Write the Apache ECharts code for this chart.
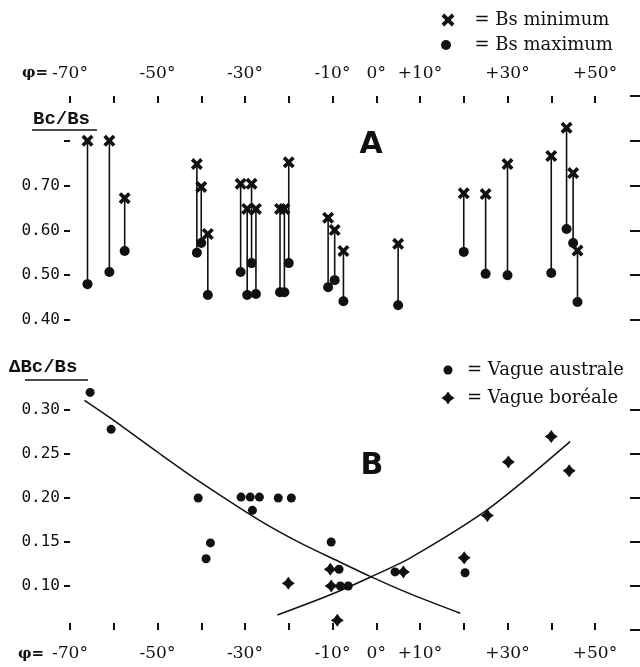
<!DOCTYPE html>
<html><head><meta charset="utf-8">
<script src="https://cdn.jsdelivr.net/npm/echarts@6/dist/echarts.min.js"></script>
<style>html,body{margin:0;padding:0;background:#fff}#c{width:640px;height:667px}</style>
</head><body><div id="c"></div>
<script>
// ---------- Panel A : Bc/Bs ----------
const latA   = [-66, -61, -57.5, -41, -40, -38.5, -31, -29.5, -28.5, -27.5, -22, -21, -20, -11, -9.5, -7.5, 5, 20, 25, 30, 40, 43.5, 45, 46];
const bsMinA = [0.80, 0.80, 0.672, 0.748, 0.697, 0.592, 0.704, 0.648, 0.704, 0.648, 0.648, 0.648, 0.752, 0.628, 0.601, 0.554, 0.570, 0.683, 0.681, 0.748, 0.766, 0.829, 0.728, 0.555];
const bsMaxA = [0.480, 0.507, 0.554, 0.550, 0.572, 0.456, 0.507, 0.456, 0.527, 0.458, 0.462, 0.462, 0.527, 0.473, 0.489, 0.442, 0.433, 0.552, 0.503, 0.500, 0.505, 0.603, 0.572, 0.440];

// ---------- Panel B : ΔBc/Bs ----------
const latAustral = [-65.4, -60.6, -40.7, -37.9, -38.9, -30.9, -28.8, -26.7, -28.3, -22.4, -19.4, -10.3, -8.5, -8.2, -6.4, 4.3, 20.3];
const valAustral = [0.320, 0.278, 0.200, 0.149, 0.131, 0.201, 0.201, 0.201, 0.186, 0.200, 0.200, 0.150, 0.119, 0.100, 0.100, 0.116, 0.115];
const latBoreal  = [-20.1, -10.5, -10.3, -8.9, 6.2, 20.1, 25.4, 30.2, 40, 44.1];
const valBoreal  = [0.103, 0.119, 0.100, 0.061, 0.116, 0.132, 0.180, 0.241, 0.270, 0.231];
const curveAustralLat = [-66.7, -60.8, -49.4, -40.2, -26.5, -17.4, -8.2, -1.4, 7.8, 19.2];
const curveAustralVal = [0.311, 0.291, 0.250, 0.218, 0.174, 0.149, 0.127, 0.111, 0.091, 0.069];
const curveBorealLat  = [-22.6, -10.5, -1.4, 7.8, 23.8, 32.9, 44.3];
const curveBorealVal  = [0.067, 0.090, 0.110, 0.132, 0.181, 0.216, 0.264];

// ---------- ticks / labels ----------
const xTicks  = [-70, -60, -50, -40, -30, -20, -10, 0, 10, 20, 30, 40, 50];
const xLabels = [-70, -50, -30, -10, 0, 10, 30, 50];
const yTicksA  = [0.4, 0.5, 0.6, 0.7, 0.8];
const yLabelsA = [0.4, 0.5, 0.6, 0.7];
const yRightA  = [0.4, 0.5, 0.6, 0.7, 0.8, 0.9];
const yTicksB  = [0.10, 0.15, 0.20, 0.25, 0.30];
const yLabelsB = [0.10, 0.15, 0.20, 0.25, 0.30];
const yRightB  = [0.05, 0.10, 0.15, 0.20, 0.25, 0.30];

const INK = '#111';
const STAR = 'path://M0,-10 Q3.4,-3.4 10,0 Q3.4,3.4 0,10 Q-3.4,3.4 -10,0 Q-3.4,-3.4 0,-10Z';
const XMARK = 'path://M-7,-4 L-4,-7 L0,-3 L4,-7 L7,-4 L3,0 L7,4 L4,7 L0,3 L-4,7 L-7,4 L-3,0Z';

const xFmt = v => (v > 0 ? '+' : '') + v + '°';
const xAxisBase = (grid, pos, margin) => ({
  gridIndex: grid, type: 'value', position: pos, min: -70, max: 58,
  axisLine: {show: false, onZero: false}, splitLine: {show: false},
  axisTick: {show: true, inside: true, length: 7, customValues: xTicks, lineStyle: {color: INK, width: 2}},
  axisLabel: {customValues: xLabels, formatter: xFmt, margin: margin, color: INK,
    fontFamily: 'DejaVu Serif', fontSize: 17}
});
const yLeft = (grid, min, max, ticks, labels) => ({
  gridIndex: grid, type: 'value', position: 'left', min: min, max: max,
  axisLine: {show: false, onZero: false}, splitLine: {show: false},
  axisTick: {show: true, length: 6, customValues: ticks, lineStyle: {color: INK, width: 2}},
  axisLabel: {customValues: labels, formatter: v => v.toFixed(2), margin: 10, color: INK,
    fontFamily: 'DejaVu Sans Mono', fontSize: 16}
});
const yRight = (grid, min, max, ticks) => ({
  gridIndex: grid, type: 'value', position: 'right', min: min, max: max,
  axisLine: {show: false, onZero: false}, splitLine: {show: false},
  axisTick: {show: true, length: 10, customValues: ticks, lineStyle: {color: INK, width: 2}},
  axisLabel: {show: false}
});
const legendBase = (name, icon, size, left, top, pad) => ({
  data: [{name: name, icon: icon}], orient: 'vertical', left: left, top: top, padding: 0,
  itemWidth: size, itemHeight: size, selectedMode: false, formatter: '= {name}',
  itemStyle: {color: INK, opacity: 1},
  textStyle: {fontFamily: 'DejaVu Serif', fontSize: 18, color: INK, lineHeight: 18, padding: [0, 0, 0, pad]}
});

const chart = echarts.init(document.getElementById('c'), null, {renderer: 'canvas'});
chart.setOption({
  backgroundColor: '#fff',
  animation: false,
  grid: [
    {left: 70, right: 10, top: 96, height: 224},
    {left: 70, right: 10, top: 410, height: 220}
  ],
  xAxis: [xAxisBase(0, 'top', 14), xAxisBase(1, 'bottom', 15)],
  yAxis: [
    yLeft(0, 0.4, 0.9, yTicksA, yLabelsA),
    yRight(0, 0.4, 0.9, yRightA),
    yLeft(1, 0.05, 0.30, yTicksB, yLabelsB),
    yRight(1, 0.05, 0.30, yRightB)
  ],
  legend: [
    legendBase('Bs minimum', XMARK, 13, 441.5, 11, 15),
    legendBase('Bs maximum', 'circle', 10, 441, 36, 18.5),
    legendBase('Vague australe', 'circle', 9, 443.5, 361, 9.5),
    legendBase('Vague boréale', STAR, 13, 441.5, 389, 7.5)
  ],
  graphic: [
    {type: 'text', x: 22, y: 73, style: {text: 'φ=', font: 'bold 15px "DejaVu Serif"', fill: INK, textVerticalAlign: 'middle'}},
    {type: 'text', x: 18, y: 654, style: {text: 'φ=', font: 'bold 15px "DejaVu Serif"', fill: INK, textVerticalAlign: 'middle'}},
    {type: 'text', x: 33, y: 119, style: {text: 'Bc/Bs', font: 'bold 19px "Liberation Mono"', fill: INK, textVerticalAlign: 'middle'}},
    {type: 'line', shape: {x1: 32, y1: 130, x2: 97, y2: 130}, style: {stroke: INK, lineWidth: 1.5}},
    {type: 'text', x: 9, y: 367, style: {text: 'ΔBc/Bs', font: 'bold 19px "Liberation Mono"', fill: INK, textVerticalAlign: 'middle'}},
    {type: 'line', shape: {x1: 25, y1: 380, x2: 88, y2: 380}, style: {stroke: INK, lineWidth: 1.5}},
    {type: 'text', x: 371, y: 145, style: {text: 'A', font: 'bold 30px "DejaVu Sans"', fill: INK, textAlign: 'center', textVerticalAlign: 'middle'}},
    {type: 'text', x: 372, y: 466, style: {text: 'B', font: 'bold 30px "DejaVu Sans"', fill: INK, textAlign: 'center', textVerticalAlign: 'middle'}}
  ],
  series: [
    {
      type: 'custom', name: 'range', xAxisIndex: 0, yAxisIndex: 0, clip: false,
      data: latA.map((x, i) => [x, bsMinA[i], bsMaxA[i]]),
      encode: {x: 0, y: [1, 2]},
      renderItem: (params, api) => {
        const p1 = api.coord([api.value(0), api.value(1)]);
        const p2 = api.coord([api.value(0), api.value(2)]);
        return {type: 'line', shape: {x1: p1[0], y1: p1[1], x2: p2[0], y2: p2[1]},
          style: {stroke: INK, lineWidth: 1.6}};
      }
    },
    {type: 'scatter', name: 'Bs minimum', xAxisIndex: 0, yAxisIndex: 0, clip: false,
      symbol: XMARK, symbolSize: 12, itemStyle: {color: INK, opacity: 1},
      data: latA.map((x, i) => [x, bsMinA[i]])},
    {type: 'scatter', name: 'Bs maximum', xAxisIndex: 0, yAxisIndex: 0, clip: false,
      symbol: 'circle', symbolSize: 10, itemStyle: {color: INK, opacity: 1},
      data: latA.map((x, i) => [x, bsMaxA[i]])},
    {type: 'line', name: 'curve australe', xAxisIndex: 1, yAxisIndex: 2, clip: false,
      smooth: 0.3, showSymbol: false, lineStyle: {color: INK, width: 1.5},
      data: curveAustralLat.map((x, i) => [x, curveAustralVal[i]])},
    {type: 'line', name: 'curve boreale', xAxisIndex: 1, yAxisIndex: 2, clip: false,
      smooth: 0.3, showSymbol: false, lineStyle: {color: INK, width: 1.5},
      data: curveBorealLat.map((x, i) => [x, curveBorealVal[i]])},
    {type: 'scatter', name: 'Vague australe', xAxisIndex: 1, yAxisIndex: 2, clip: false,
      symbol: 'circle', symbolSize: 9, itemStyle: {color: INK, opacity: 1},
      data: latAustral.map((x, i) => [x, valAustral[i]])},
    {type: 'scatter', name: 'Vague boréale', xAxisIndex: 1, yAxisIndex: 2, clip: false,
      symbol: STAR, symbolSize: 13, itemStyle: {color: INK, opacity: 1},
      data: latBoreal.map((x, i) => [x, valBoreal[i]])}
  ]
});
</script></body></html>
